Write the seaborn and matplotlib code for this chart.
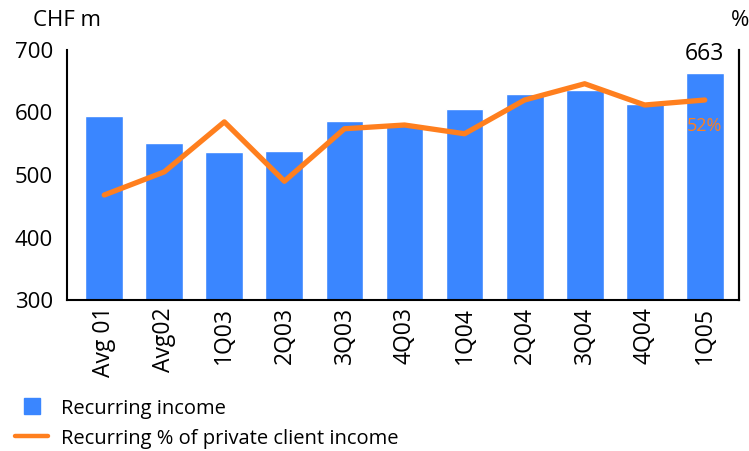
import numpy as np
import pandas as pd
import matplotlib
matplotlib.use("Agg")
import matplotlib.pyplot as plt
import seaborn as sns
from matplotlib.lines import Line2D

# Quarterly recurring income (CHF m) and its share of private client income (%)
periods = ["Avg 01", "Avg02", "1Q03", "2Q03", "3Q03", "4Q03",
           "1Q04", "2Q04", "3Q04", "4Q04", "1Q05"]
recurring_income = [594, 551, 537, 538, 586, 582, 606, 630, 636, 614, 663]
recurring_pct = [36.8, 40.5, 48.5, 39.0, 47.4, 48.0, 46.6, 52.0, 54.6, 51.2, 52.0]
left_ticks = [300, 400, 500, 600, 700]

BLUE = "#3a86ff"
ORANGE = "#ff7f1e"

sns.set_style("white")
plt.rcParams["font.family"] = ["Open Sans", "DejaVu Sans"]
plt.rcParams["text.color"] = "black"
plt.rcParams["xtick.color"] = "black"
plt.rcParams["ytick.color"] = "black"

df = pd.DataFrame({"period": periods, "income": recurring_income,
                   "pct": recurring_pct, "pos": np.arange(len(periods))})

fig = plt.figure(figsize=(7.49, 4.51), dpi=100)
ax = fig.add_axes([67 / 749, 1 - 300 / 451, (739 - 67) / 749, 250 / 451])

sns.barplot(data=df, x="period", y="income", color=BLUE, width=0.63,
            saturation=1, ax=ax, order=periods)
ax.set_ylim(300, 700)
ax.set_xlim(-0.62, len(periods) - 1 + 0.57)
ax.set_yticks(left_ticks)
ax.set_yticklabels([str(t) for t in left_ticks], fontsize=16)
ax.tick_params(axis="both", length=0)
ax.tick_params(axis="y", pad=10)
ax.tick_params(axis="x", labelsize=16.5, rotation=90, pad=5)
ax.set_xlabel("")
ax.set_ylabel("")
for side in ("left", "bottom", "right"):
    ax.spines[side].set_visible(True)
    ax.spines[side].set_color("black")
    ax.spines[side].set_linewidth(1.5)
ax.spines["top"].set_visible(False)

ax2 = ax.twinx()
sns.lineplot(data=df, x="pos", y="pct", color=ORANGE, linewidth=3.8,
             ax=ax2, legend=False)
ax2.set_ylim(20, 60)
ax2.set_yticks([])
ax2.set_ylabel("")
ax2.set_xlabel("")
for side in ("left", "bottom", "top"):
    ax2.spines[side].set_visible(False)
ax2.spines["right"].set_color("black")
ax2.spines["right"].set_linewidth(1.5)
ax2.set_xlim(ax.get_xlim())

# Value annotations for the latest quarter
last = len(periods) - 1
ax.annotate(f"{recurring_income[last]}", xy=(last, recurring_income[last]),
            xytext=(0, 5), textcoords="offset points", ha="center", va="bottom",
            fontsize=16.5, color="black")
ax2.annotate(f"{recurring_pct[last]:.0f}%", xy=(last, recurring_pct[last]),
             xytext=(0, -12), textcoords="offset points", ha="center", va="top",
             fontsize=13, color=ORANGE)

fig.text(33 / 749, 1 - 21 / 451, "CHF m", fontsize=16, va="center", ha="left")
fig.text(749 / 749, 1 - 21 / 451, "%", fontsize=16, va="center", ha="right")

handles = [Line2D([0], [0], color=BLUE, marker="s", markersize=11,
                  linestyle="none"),
           Line2D([0], [0], color=ORANGE, linewidth=3.2)]
fig.legend(handles, ["Recurring income", "Recurring % of private client income"],
           loc="upper left", bbox_to_anchor=(15 / 749, 1 - 398 / 451),
           frameon=False, fontsize=14.5, handlelength=1.65, handleheight=1.0,
           handletextpad=0.65, labelspacing=0.45, borderaxespad=0,
           borderpad=0)

fig.savefig("out.png", dpi=100)
